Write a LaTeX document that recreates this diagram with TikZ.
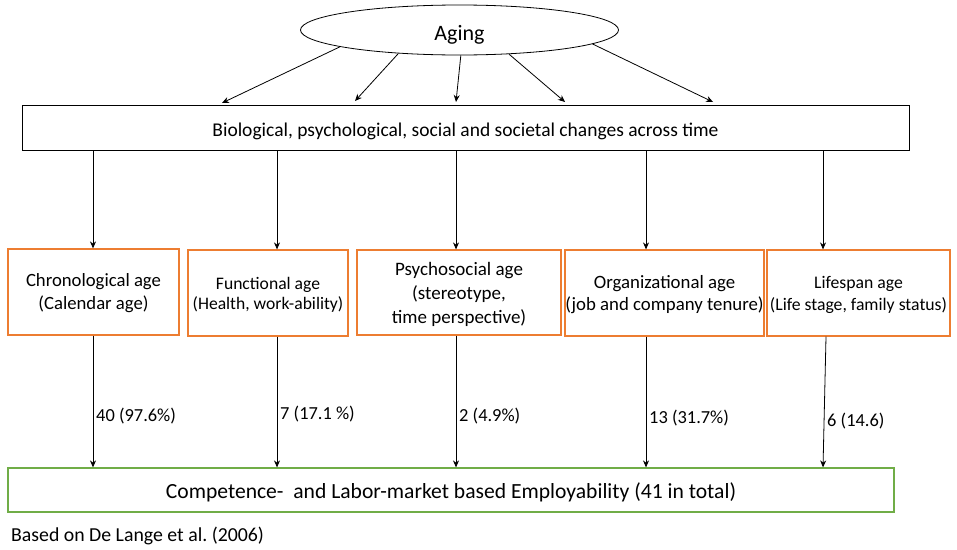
\documentclass[tikz,border=0pt]{standalone}
\usepackage{fontspec}
\setmainfont{Carlito}
\frenchspacing
\usetikzlibrary{shapes.geometric,arrows.meta}
\definecolor{boxorange}{HTML}{ED7D31}
\definecolor{boxgreen}{HTML}{70AD47}
\begin{document}
\begin{tikzpicture}[x=1pt,y=-1pt,
  arr/.style={draw=black,line width=0.8pt,-{Stealth[length=7pt,width=6pt]}},
  agebox/.style={draw=boxorange,line width=1.2pt,align=center,inner sep=0pt,text depth=-3pt},
  lbl/.style={anchor=west,inner sep=0pt,font=\fontsize{18.4}{20}\selectfont}]
\useasboundingbox (0,0) rectangle (957,549);
% top ellipse
\node[ellipse,draw,line width=0.8pt,minimum width=318pt,minimum height=50pt,inner sep=0pt,
  text height=20pt,text depth=0pt,
  font=\fontsize{22}{26}\selectfont] (aging) at (459.5,30) {Aging};
% biological box
\node[draw,line width=1pt,minimum width=887pt,minimum height=45pt,inner sep=0pt,
  text height=18pt,text depth=0pt,
  font=\fontsize{19.5}{22}\selectfont] (bio) at (465.5,127.5)
  {Biological, psychological, social and societal changes across time};
% arrow end points on top of bio box
\coordinate (t1) at (222,103);
\coordinate (t2) at (355,101);
\coordinate (t3) at (456,102);
\coordinate (t4) at (565,102);
\coordinate (t5) at (713,102);
\draw[arr] (aging.188) -- (t1);
\draw[arr] (aging.201) -- (t2);
\draw[arr] (aging.273) -- (t3);
\draw[arr] (aging.334) -- (t4);
\draw[arr] (aging.354) -- (t5);
% age boxes
\node[agebox,minimum width=171pt,minimum height=86pt,font=\fontsize{18.7}{23}\selectfont]
  (c1) at (93.5,292) {Chronological age\\(Calendar age)};
\node[agebox,minimum width=160pt,minimum height=86pt,font=\fontsize{17.6}{20}\selectfont]
  (c2) at (268,293) {Functional age\\(Health, work-ability)};
\node[agebox,minimum width=204pt,minimum height=85pt,font=\fontsize{19}{24}\selectfont]
  (c3) at (459,292.5) {Psychosocial age\\(stereotype,\\time perspective)};
\node[agebox,minimum width=199pt,minimum height=86pt,font=\fontsize{18.8}{22}\selectfont]
  (c4) at (664.5,293) {Organizational age\\(job and company tenure)};
\node[agebox,minimum width=183pt,minimum height=86pt,font=\fontsize{17.7}{22}\selectfont]
  (c5) at (858.5,293) {Lifespan age\\(Life stage, family status)};
% employability box
\node[draw=boxgreen,line width=1.2pt,minimum width=886pt,minimum height=44pt,inner sep=0pt,
  text height=17pt,text depth=0pt,
  font=\fontsize{21.6}{24}\selectfont] (emp) at (451,490)
  {Competence-\ \ and Labor-market based Employability (41 in total)};
% column x positions
\coordinate (x1) at (93,0);
\coordinate (x2) at (277,0);
\coordinate (x3) at (456,0);
\coordinate (x4) at (646,0);
\coordinate (x5) at (823,0);
\draw[arr] (bio.south -| x1) -- (c1.north -| x1);
\draw[arr] (bio.south -| x2) -- (c2.north -| x2);
\draw[arr] (bio.south -| x3) -- (c3.north -| x3);
\draw[arr] (bio.south -| x4) -- (c4.north -| x4);
\draw[arr] (bio.south -| x5) -- (c5.north -| x5);
\draw[arr] (c1.south -| x1) -- (emp.north -| x1);
\draw[arr] (c2.south -| x2) -- (emp.north -| x2);
\draw[arr] (c3.south -| x3) -- (emp.north -| x3);
\draw[arr] (c4.south -| x4) -- (emp.north -| x4);
\coordinate (x5b) at (826,0);
\draw[arr] (c5.south -| x5b) -- (emp.north -| x5);
% labels
\node[lbl] (l1) at (96,416) {40 (97.6\%)};
\node[lbl] (l2) at (280,414) {7 (17.1 \%)};
\node[lbl] (l3) at (459,416) {2 (4.9\%)};
\node[lbl] (l4) at (649,418) {13 (31.7\%)};
\node[lbl] (l5) at (827,421) {6 (14.6)};
% footnote
\node[anchor=west,inner sep=0pt,font=\fontsize{19.8}{22}\selectfont] (note) at (11,536)
  {Based on De Lange et al. (2006)};
\end{tikzpicture}
\end{document}
